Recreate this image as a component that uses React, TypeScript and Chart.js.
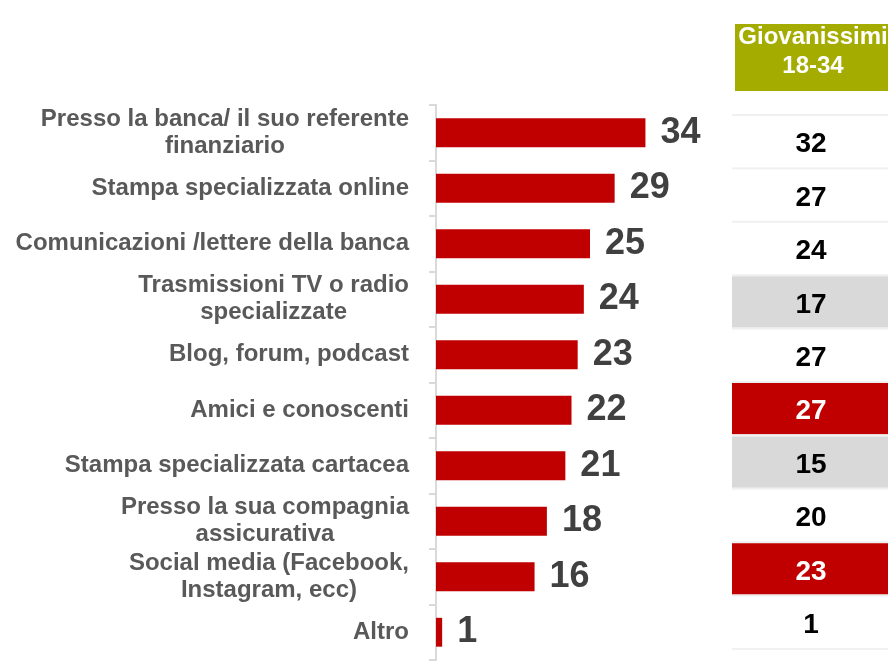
import React, { useEffect, useRef } from "react";
import { Chart, registerables } from "chart.js";

Chart.register(...registerables);

const categories: (string | string[])[] = [
  ["Presso la banca/ il suo referente", "finanziario"],
  "Stampa specializzata online",
  "Comunicazioni /lettere della banca",
  ["Trasmissioni TV o radio", "specializzate"],
  "Blog, forum, podcast",
  "Amici e conoscenti",
  "Stampa specializzata cartacea",
  ["Presso la sua compagnia", "assicurativa"],
  ["Social media (Facebook,", "Instagram, ecc)"],
  "Altro",
];

const totalValues: number[] = [34, 29, 25, 24, 23, 22, 21, 18, 16, 1];

const youngHeader: string[] = ["Giovanissimi", "18-34"];
const youngValues: number[] = [32, 27, 24, 17, 27, 27, 15, 20, 23, 1];
// -1 = significantly lower than total, 1 = significantly higher, 0 = in line
const youngSignificance: number[] = [0, 0, 0, -1, 0, 1, -1, 0, 1, 0];

const FONT = "'Liberation Sans', Arial, sans-serif";

const overlayPlugin = {
  id: "overlay",
  afterDatasetsDraw(chart: any) {
    const ctx: CanvasRenderingContext2D = chart.ctx;
    const yScale = chart.scales.y;
    const area = chart.chartArea;
    const n = categories.length;

    ctx.save();

    // value labels next to bars
    const meta = chart.getDatasetMeta(0);
    ctx.font = `bold 36px ${FONT}`;
    ctx.fillStyle = "#404040";
    ctx.textAlign = "left";
    ctx.textBaseline = "middle";
    meta.data.forEach((bar: any, i: number) => {
      ctx.fillText(String(totalValues[i]), bar.x + 15, bar.y);
    });

    // category labels (block right-aligned, lines centered)
    ctx.font = `bold 24px ${FONT}`;
    ctx.fillStyle = "#595959";
    ctx.textAlign = "center";
    const rightEdge = area.left - 27;
    categories.forEach((lab, i) => {
      const lines = Array.isArray(lab) ? lab : [lab];
      const cy = yScale.getPixelForValue(i);
      const maxW = Math.max(...lines.map((l) => ctx.measureText(l).width));
      const cx = rightEdge - maxW / 2;
      lines.forEach((l, j) => {
        ctx.fillText(l, cx, cy + (j - (lines.length - 1) / 2) * 27);
      });
    });

    // side table
    const cellLeft = 732;
    const cellRight = chart.width;
    const cellCx = 811;
    // header
    ctx.fillStyle = "#a5ac00";
    ctx.fillRect(735, 24, cellRight - 735, 67);
    ctx.fillStyle = "#ffffff";
    ctx.font = `bold 24px ${FONT}`;
    ctx.textAlign = "center";
    ctx.fillText(youngHeader[0], 813, 37);
    ctx.fillText(youngHeader[1], 813, 66);

    const rowH = ((area.bottom - area.top) / n) * 0.962;
    const top0 = area.top + 10;
    for (let i = 0; i < n; i++) {
      const t = top0 + i * rowH;
      const sig = youngSignificance[i];
      if (sig !== 0) {
        ctx.fillStyle = sig > 0 ? "#c00000" : "#d9d9d9";
        ctx.fillRect(cellLeft, t + 1, cellRight - cellLeft, rowH - 2);
      }
    }
    ctx.fillStyle = "#f0f0f0";
    for (let i = 0; i <= n; i++) {
      const t = top0 + i * rowH;
      ctx.fillRect(cellLeft, t - 1, cellRight - cellLeft, 2);
    }
    ctx.font = `bold 28px ${FONT}`;
    for (let i = 0; i < n; i++) {
      const c = top0 + (i + 0.5) * rowH;
      ctx.fillStyle = youngSignificance[i] > 0 ? "#ffffff" : "#000000";
      ctx.fillText(String(youngValues[i]), cellCx, c + 3);
    }

    ctx.restore();
  },
};

export default function App() {
  const ref = useRef<HTMLCanvasElement | null>(null);

  useEffect(() => {
    document.body.style.margin = "0";
    document.body.style.overflow = "hidden";
    if (!ref.current) return;
    const chart = new Chart(ref.current, {
      type: "bar",
      data: {
        labels: categories as any,
        datasets: [
          {
            data: totalValues,
            backgroundColor: "#c00000",
            borderWidth: 0,
            categoryPercentage: 1,
            barPercentage: 0.52,
          },
        ],
      },
      options: {
        indexAxis: "y",
        animation: false,
        responsive: false,
        events: [],
        layout: { padding: { top: 105, bottom: 9, left: 0, right: 144 } },
        plugins: {
          legend: { display: false },
          tooltip: { enabled: false },
          title: { display: false },
        },
        scales: {
          x: {
            display: false,
            min: 0,
            max: 50,
          },
          y: {
            position: "left",
            afterFit: (scale: any) => {
              scale.width = 436;
            },
            ticks: { display: false },
            grid: {
              offset: true,
              drawOnChartArea: false,
              drawTicks: true,
              tickLength: 7,
              color: "#d9d9d9",
              lineWidth: 2,
            },
            border: { display: true, color: "#d9d9d9", width: 2 },
          },
        },
      },
      plugins: [overlayPlugin],
    });
    return () => chart.destroy();
  }, []);

  return (
    <div style={{ width: 888, height: 669 }}>
      <canvas ref={ref} width={888} height={669} />
    </div>
  );
}
